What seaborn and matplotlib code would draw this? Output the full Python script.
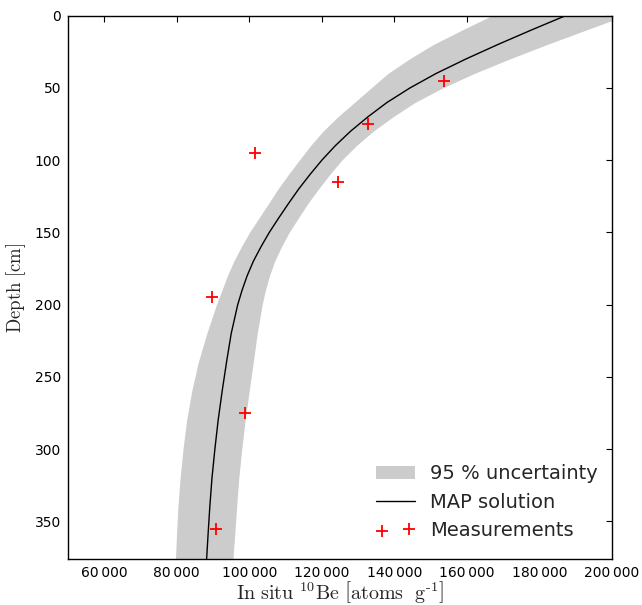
import matplotlib
matplotlib.use("Agg")
import pandas as pd
import seaborn as sns
from matplotlib import pyplot as plt

# measured 10Be concentrations
meas_depth = [45, 75, 95, 115, 195, 275, 355]
meas_conc = [153700, 132700, 101600, 124400, 89700, 98800, 90900]

depth = [0, 10, 20, 30, 40, 50, 60, 70, 80, 90, 100, 110, 120, 130, 140, 150, 160, 170,
         180, 190, 200, 220, 240, 260, 280, 300, 320, 340, 360, 377]

# MAP solution
map_conc = [187200, 177700, 168500, 159700, 151500, 144300, 138000, 132700, 127900, 123700,
            120000, 116700, 113600, 110800, 108100, 105500, 103200, 101100, 99400, 98000,
            96800, 95000, 93700, 92500, 91400, 90500, 89700, 89100, 88600, 88200]

# 95 % band, lower and upper edge
low_conc = [166850, 158600, 150700, 144100, 138200, 133600, 129000, 124400, 120300, 116850,
            113770, 110760, 107870, 105300, 102650, 100030, 97770, 95700, 93950, 92450,
            90920, 88250, 85900, 84100, 82700, 81700, 80900, 80300, 79900, 79600]
high_conc = [203620, 192810, 182040, 171740, 162020, 153310, 145730, 139610, 134140, 129490,
             125500, 122140, 119050, 116140, 113530, 110970, 108840, 106970, 105560, 104430,
             103540, 102170, 101080, 99950, 98850, 97900, 97100, 96500, 95950, 95450]

xticks = [60000, 80000, 100000, 120000, 140000, 160000, 180000, 200000]
xtick_labels = ["60\u2009000", "80\u2009000", "100\u2009000", "120\u2009000",
                "140\u2009000", "160\u2009000", "180\u2009000", "200\u2009000"]
yticks = [0, 50, 100, 150, 200, 250, 300, 350]

sns.set_theme(style="white")
plt.rcParams["font.family"] = ["DejaVu Sans"]
plt.rcParams["mathtext.fontset"] = "cm"

fig = plt.figure(figsize=(6.42, 6.05), dpi=100)
ax = fig.add_axes([0.106, 0.076, 0.847, 0.898])

ax.fill_betweenx(depth, low_conc, high_conc, color="#cccccc", linewidth=0,
                 label="95 % uncertainty")

df_map = pd.DataFrame({"conc": map_conc, "depth": depth})
sns.lineplot(data=df_map, x="conc", y="depth", sort=False, color="black", lw=1.0,
             label="MAP solution", ax=ax)

df_meas = pd.DataFrame({"conc": meas_conc, "depth": meas_depth})
sns.scatterplot(data=df_meas, x="conc", y="depth", marker="+", color="red", s=70,
                linewidth=1.3, label="Measurements", ax=ax, zorder=5)

ax.set_xlim(50000, 200000)
ax.set_ylim(376, 0)
ax.set_xticks(xticks)
ax.set_xticklabels(xtick_labels)
ax.set_yticks(yticks)
ax.tick_params(direction="in", length=4, width=0.8, top=True, right=True,
               labelsize=10, colors="black", pad=5)
for s in ax.spines.values():
    s.set_color("black")
    s.set_linewidth(1.0)

ax.set_xlabel(r"$\mathrm{In\ situ\ }^{10}\mathrm{Be}\ \left[\mathrm{atoms\ \ g^{\text{-}1}}\right]$",
              fontsize=14.5, labelpad=-1)
ax.set_ylabel(r"$\mathrm{Depth\ [cm]}$", fontsize=13.5, labelpad=5)

ax.legend(loc="lower right", bbox_to_anchor=(1.0, 0.01), frameon=False, fontsize=14,
          scatterpoints=2, handlelength=2.0, borderaxespad=0.3, labelspacing=0.48)

fig.savefig("out.png", dpi=100)
